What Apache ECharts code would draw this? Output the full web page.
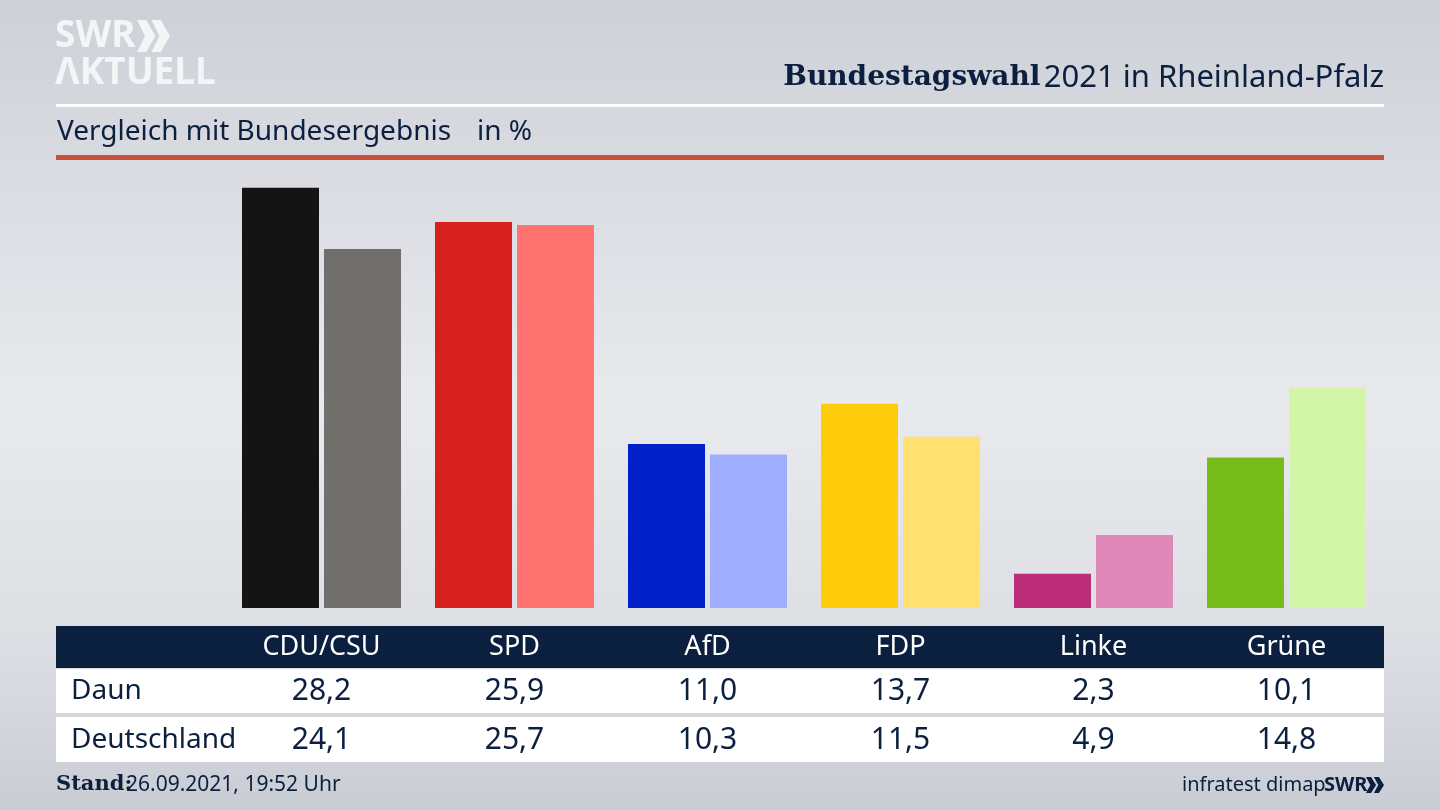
<!DOCTYPE html>
<html>
<head>
<meta charset="utf-8">
<style>
html, body { margin: 0; padding: 0; }
#chart { width: 1440px; height: 810px; }
</style>
<script src="https://cdn.jsdelivr.net/npm/echarts@6/dist/echarts.min.js"></script>
</head>
<body>
<div id="chart"></div>
<script>
const parties = ['CDU/CSU', 'SPD', 'AfD', 'FDP', 'Linke', 'Grüne']
const daun = [28.2, 25.9, 11.0, 13.7, 2.3, 10.1]
const deutschland = [24.1, 25.7, 10.3, 11.5, 4.9, 14.8]
const rowNames = ['Daun', 'Deutschland']
const daunColors = ['#141414', '#d7201e', '#0020c8', '#ffcc0a', '#bc2e78', '#78bc1c']
const deutschlandColors = ['#716f6c', '#ff7370', '#9fadff', '#ffe070', '#e088b8', '#d2f5a8']

const navy = '#0b1f3f'
const font = '"Noto Sans", sans-serif'

function fmt(v) {
    return v.toFixed(1).replace('.', ',')
}

function rect(x, y, width, height, fill) {
    return { type: 'rect', z: -1, shape: { x, y, width, height }, style: { fill } }
}

function text(x, y, str, size, fill, extra) {
    return {
        type: 'text', z: 5, x, y,
        style: Object.assign({ text: str, fontFamily: font, fontSize: size, fill, textVerticalAlign: 'middle' }, extra)
    }
}

// doppelter Pfeil vom SWR Logo
function chevrons(x, y, w, h, fill) {
    const one = dx => ({
        type: 'polygon', z: 5,
        shape: { points: [[x + dx, y], [x + dx + w * 0.28, y], [x + dx + w * 0.56, y + h / 2], [x + dx + w * 0.28, y + h], [x + dx, y + h], [x + dx + w * 0.24, y + h / 2]] },
        style: { fill }
    })
    return [one(0), one(w * 0.44)]
}

const myChart = echarts.init(document.querySelector('#chart'))
const option = {
    animation: false,
    backgroundColor: {
        type: 'linear', x: 0, y: 0, x2: 0, y2: 1,
        colorStops: [
            { offset: 0, color: '#cdd0d7' },
            { offset: 0.2, color: '#d9dbe1' },
            { offset: 0.5, color: '#e9eaee' },
            { offset: 0.8, color: '#dcdee3' },
            { offset: 1, color: '#c9ccd3' }
        ]
    },
    grid: { left: 225, top: 161, width: 1158, height: 447 },
    xAxis: {
        type: 'category',
        data: parties,
        axisLine: { show: false },
        axisTick: { show: false },
        axisLabel: {
            margin: 19,
            interval: 0,
            formatter: (name, i) => `{h|${name}}\n{a|${fmt(daun[i])}}\n{b|${fmt(deutschland[i])}}`,
            rich: {
                h: { fontFamily: font, fontSize: 27, color: '#ffffff', lineHeight: 40, align: 'center' },
                a: { fontFamily: font, fontSize: 30, color: navy, lineHeight: 48, align: 'center' },
                b: { fontFamily: font, fontSize: 30, color: navy, lineHeight: 50, align: 'center' }
            }
        }
    },
    yAxis: { type: 'value', min: 0, max: 30, show: false },
    series: [
        {
            type: 'bar', name: rowNames[0], barWidth: 77, barGap: '6.5%',
            data: daun.map((v, i) => ({ value: v, itemStyle: { color: daunColors[i] } }))
        },
        {
            type: 'bar', name: rowNames[1], barWidth: 77,
            data: deutschland.map((v, i) => ({ value: v, itemStyle: { color: deutschlandColors[i] } }))
        }
    ],
    graphic: [
        // Linien
        rect(56, 104, 1328, 3, '#ffffff'),
        rect(56, 155, 1328, 5, '#c9503c'),
        // Tabelle
        rect(56, 626, 1328, 42, navy),
        rect(56, 669, 1328, 44, '#ffffff'),
        rect(56, 717, 1328, 45, '#ffffff'),
        text(71, 691, rowNames[0], 28, navy),
        text(71, 740, rowNames[1], 28, navy),
        // Logo
        text(55, 36, 'SWR', 37, '#f4f5f7', { fontWeight: 'bold' }),
        text(55, 73, 'ΛKTUELL', 37, '#f4f5f7', { fontWeight: 'bold' }),
        ...chevrons(137, 20, 33, 32, '#f4f5f7'),
        // Titel
        {
            type: 'text', z: 5, x: 1384, y: 78,
            style: {
                text: '{b|Bundestagswahl} {r|2021 in Rheinland-Pfalz}',
                align: 'right', verticalAlign: 'middle',
                rich: {
                    b: { fontFamily: '"DejaVu Serif", serif', fontWeight: 'bold', fontSize: 28, fill: navy },
                    r: { fontFamily: font, fontSize: 31, fill: navy }
                }
            }
        },
        text(57, 132, 'Vergleich mit Bundesergebnis', 28, navy),
        text(477, 132, 'in %', 28, navy),
        // Fusszeile
        text(56, 785, 'Stand:', 21, navy, { fontFamily: '"DejaVu Serif", serif', fontWeight: 'bold' }),
        text(126, 785, '26.09.2021, 19:52 Uhr', 21, navy),
        text(1182, 785, 'infratest dimap', 20, navy),
        text(1324, 785, 'SWR', 20, navy, { fontWeight: 'bold' }),
        ...chevrons(1366, 777, 18, 16, navy)
    ]
}
myChart.setOption(option)
</script>
</body>
</html>
